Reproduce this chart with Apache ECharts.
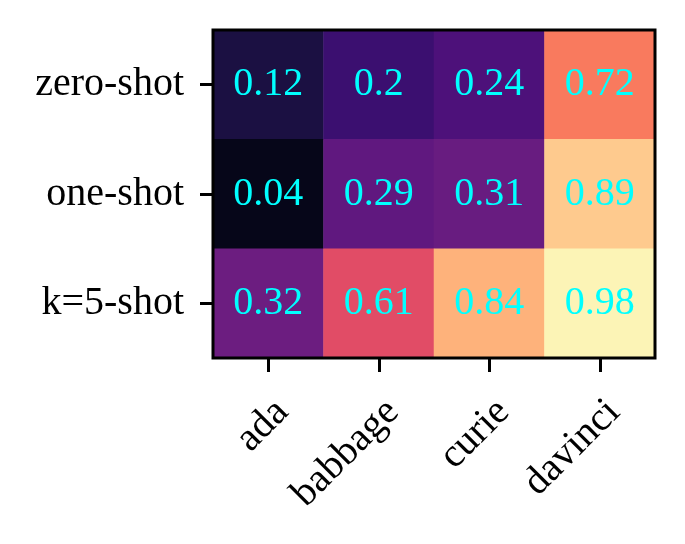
<!DOCTYPE html>
<html>
<head>
<meta charset="utf-8">
<script src="https://cdn.jsdelivr.net/npm/echarts@6/dist/echarts.min.js"></script>
<style>
html,body{margin:0;padding:0;background:#fff;}
#chart{width:685px;height:544px;}
</style>
</head>
<body>
<div id="chart"></div>
<script>
var models = ['ada', 'babbage', 'curie', 'davinci'];
var settings = ['zero-shot', 'one-shot', 'k=5-shot'];
var zeroShot = [0.12, 0.2, 0.24, 0.72];
var oneShot = [0.04, 0.29, 0.31, 0.89];
var fiveShot = [0.32, 0.61, 0.84, 0.98];
var magma = ['#000004', '#08071e', '#140e36', '#251255', '#3b0f70', '#51127c', '#641a80', '#782281', '#8c2981', '#a1307e', '#b73779', '#cb3e71', '#de4968', '#ed5a5f', '#f7705c', '#fc8961', '#fe9f6d', '#feb77e', '#fecf92', '#fde7a9', '#fcfdbf'];

var rows = [zeroShot, oneShot, fiveShot];
var data = [];
rows.forEach(function (row, r) {
  row.forEach(function (v, c) { data.push([c, r, v]); });
});

var font = '"Liberation Serif", "Times New Roman", serif';
var fs = 40;
var chart = echarts.init(document.getElementById('chart'), null, {renderer: 'canvas'});
chart.setOption({
  animation: false,
  backgroundColor: '#ffffff',
  grid: {left: 213, top: 30, right: 30, bottom: 186, containLabel: false},
  xAxis: {
    type: 'category',
    data: models,
    position: 'bottom',
    axisLine: {show: false},
    axisTick: {show: true, length: 14, alignWithLabel: true, lineStyle: {color: '#000', width: 3}},
    axisLabel: {rotate: 45, margin: 34, verticalAlign: 'top', color: '#000', fontFamily: font, fontSize: fs},
    splitLine: {show: false}
  },
  yAxis: {
    type: 'category',
    data: settings,
    inverse: true,
    axisLine: {show: false},
    axisTick: {show: true, length: 13, alignWithLabel: true, lineStyle: {color: '#000', width: 3}},
    axisLabel: {margin: 29, color: '#000', fontFamily: font, fontSize: fs},
    splitLine: {show: false}
  },
  visualMap: {
    show: false,
    type: 'continuous',
    min: 0,
    max: 1,
    dimension: 2,
    inRange: {color: magma}
  },
  series: [{
    type: 'heatmap',
    data: data,
    label: {
      show: true,
      color: '#00ffff',
      fontFamily: font,
      fontSize: fs,
      formatter: function (p) { return String(p.value[2]); }
    },
    itemStyle: {borderWidth: 0}
  }]
});

var rect = chart.getModel().getComponent('grid').coordinateSystem.getRect();
chart.setOption({
  graphic: [{
    type: 'rect',
    shape: {x: rect.x, y: rect.y, width: rect.width, height: rect.height},
    style: {fill: 'none', stroke: '#000', lineWidth: 3},
    z: 100
  }]
});
</script>
</body>
</html>
